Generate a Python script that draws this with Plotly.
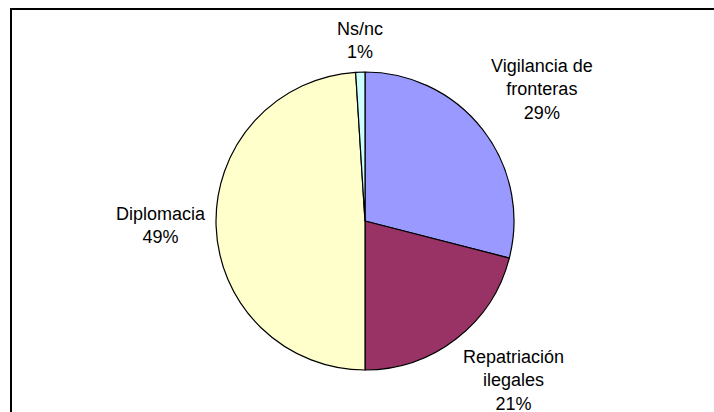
import math
import plotly.graph_objects as go

etiquetas = ["Vigilancia de<br>fronteras", "Repatriación<br>ilegales", "Diplomacia", "Ns/nc"]
valores = [29, 21, 49, 1]
colores = ["#9999FF", "#993366", "#FFFFCC", "#CCFFFF"]

W, H = 714, 412
cx, cy, R = 365, 221, 149  # centro y radio de la tarta en pixeles

fig = go.Figure()
fig.add_trace(go.Pie(
    labels=etiquetas,
    values=valores,
    sort=False,
    direction="clockwise",
    rotation=0,
    textinfo="none",
    hoverinfo="label+percent",
    marker=dict(colors=colores, line=dict(color="black", width=1.2)),
    domain=dict(x=[(cx - R) / W, (cx + R) / W], y=[1 - (cy + R) / H, 1 - (cy - R) / H]),
    showlegend=False,
))

# etiquetas estilo Excel, fuera de la tarta
total = sum(valores)
acum = 0
for lab, v in zip(etiquetas, valores):
    mid = (acum + v / 2) / total * 2 * math.pi
    acum += v
    dx, dy = math.sin(mid), -math.cos(mid)
    g = R + 8
    px, py = cx + g * dx, cy + g * dy
    xa = "center" if abs(dx) < 0.3 else ("left" if dx > 0 else "right")
    ya = "middle" if abs(dy) < 0.3 else ("bottom" if dy < 0 else "top")
    fig.add_annotation(
        x=px / W, y=1 - py / H, xref="paper", yref="paper",
        text=f"{lab}<br>{round(v / total * 100)}%",
        showarrow=False, xanchor=xa, yanchor=ya, align="center",
        font=dict(family="Liberation Sans, Arial", size=18, color="black"),
    )

# marco del grafico
fig.add_shape(type="rect", xref="paper", yref="paper",
              x0=11 / W, x1=1.05, y0=-0.05, y1=1 - 9 / H,
              line=dict(color="black", width=2))

fig.update_layout(
    width=W, height=H,
    margin=dict(l=0, r=0, t=0, b=0),
    paper_bgcolor="white",
    plot_bgcolor="white",
)

fig.write_html("out.html", config={"displayModeBar": False},
               post_script="document.body.style.margin='0';document.body.style.overflow='hidden';")
